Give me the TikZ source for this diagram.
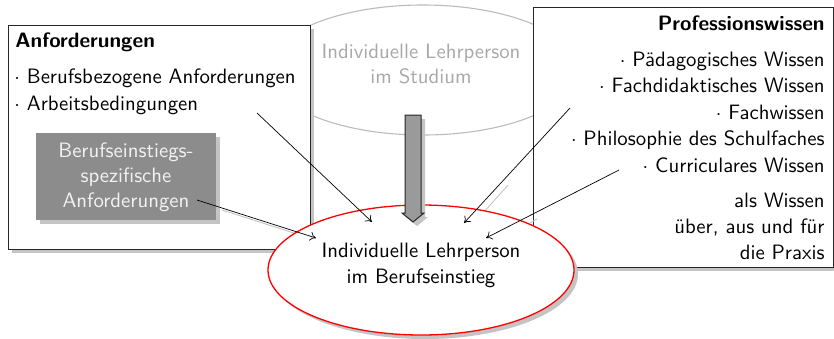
\documentclass[tikz,border=0pt]{standalone}
\usetikzlibrary{shapes.geometric,shadows,arrows.meta}
\definecolor{lightline}{HTML}{BBBBBB}
\definecolor{lighttext}{HTML}{A8A8A8}
\definecolor{boxgray}{HTML}{8C8C8C}
\definecolor{boxtext}{HTML}{F2F2F2}
\definecolor{arrowgray}{HTML}{9A9A9A}
\definecolor{shadowgray}{HTML}{C4C4C4}
\newcommand\listdot{$\cdot$ }
\begin{document}
\begin{tikzpicture}[x=0.5pt,y=-0.5pt,
  txt/.style={font=\fontsize{10.4}{13.3}\selectfont\sffamily, inner sep=0pt},
  frame/.style={draw=black!85, line width=0.5pt, fill=white, inner sep=0pt,
    drop shadow={shadow xshift=2pt,shadow yshift=-2pt,fill=shadowgray,opacity=1}},
  conn/.style={draw=black, line width=0.35pt, -{To[length=3pt,width=4.5pt]}},
  ghost/.style={draw=shadowgray, line width=0.45pt}]
\useasboundingbox (0,0) rectangle (834,338);

% background ellipse (study)
\node[ellipse, draw=lightline, line width=0.55pt, minimum width=155pt, minimum height=65pt, inner sep=0pt] (stud) at (423,70) {};
\node[txt, text=lighttext, anchor=base] (stud1) at (421,58) {Individuelle Lehrperson};
\node[txt, text=lighttext, anchor=base] (stud2) at (421,83) {im Studium};

% left box
\node[frame, minimum width=151pt, minimum height=112pt] (anf) at (159,137) {};
\node[txt, anchor=base west] (l0) at (15,47) {\bfseries Anforderungen};
\node[txt, anchor=base west] (l1) at (14,83) {\listdot Berufsbezogene Anforderungen};
\node[txt, anchor=base west] (l2) at (14,110) {\listdot Arbeitsbedingungen};

\node[fill=boxgray, inner sep=0pt, minimum width=90pt, minimum height=43.5pt,
  drop shadow={shadow xshift=2pt,shadow yshift=-2pt,fill=shadowgray,opacity=1}] (gbox) at (126,176.5) {};
\node[txt, text=boxtext, anchor=base] (g1) at (126,157) {Berufseinstiegs-};
\node[txt, text=boxtext, anchor=base] (g2) at (126,182) {spezifische};
\node[txt, text=boxtext, anchor=base] (g3) at (126,207) {Anforderungen};

% right box
\node[frame, minimum width=150pt, minimum height=130pt] (prof) at (683,137) {};
\node[txt, anchor=base east] (r0) at (825,30) {\bfseries Professionswissen};
\node[txt, anchor=base east] (r1) at (825,66) {\listdot Pädagogisches Wissen};
\node[txt, anchor=base east] (r2) at (825,92) {\listdot Fachdidaktisches Wissen};
\node[txt, anchor=base east] (r3) at (825,119) {\listdot Fachwissen};
\node[txt, anchor=base east] (r4) at (825,145) {\listdot Philosophie des Schulfaches};
\node[txt, anchor=base east] (r5) at (825,172) {\listdot Curriculares Wissen};
\node[txt, anchor=base east] (r6) at (825,207) {als Wissen};
\node[txt, anchor=base east] (r7) at (825,233) {über, aus und für};
\node[txt, anchor=base east] (r8) at (825,259) {die Praxis};

% arrow end points
\coordinate (a1s) at (257,113); \coordinate (a1e) at (372,222);
\coordinate (a2s) at (197,200); \coordinate (a2e) at (316,238);
\coordinate (a3s) at (570,108); \coordinate (a3e) at (464,223);
\coordinate (a4s) at (619,170); \coordinate (a4e) at (486,238);

% faint shadows of connectors
\coordinate (s2a) at (222,210); \coordinate (s2b) at (300,235);
\coordinate (s3a) at (508,185); \coordinate (s3b) at (483,213);
\coordinate (s4a) at (537,219); \coordinate (s4b) at (530,223);
\draw[ghost] (s2a) -- (s2b);
\draw[ghost] (s3a) -- (s3b);
\draw[ghost] (s4a) -- (s4b);

% main ellipse
\node[ellipse, draw=red, line width=0.65pt, fill=white, inner sep=0pt, minimum width=153pt, minimum height=65pt,
  drop shadow={shadow xshift=2pt,shadow yshift=-2pt,fill=shadowgray,opacity=1}] (beruf) at (421,270) {};
\node[txt, anchor=base] (b1) at (421,257) {Individuelle Lehrperson};
\node[txt, anchor=base] (b2) at (421,283) {im Berufseinstieg};

% block arrow
\fill[shadowgray] (409,119) -- (425,119) -- (425,217) -- (428,217) -- (417,226) -- (406,217) -- (409,217) -- cycle;
\draw[fill=arrowgray, draw=black!85, line width=0.5pt] (405,115) -- (421,115) -- (421,213) -- (424,213) -- (413,222) -- (402,213) -- (405,213) -- cycle;

% connectors
\draw[conn] (a1s) -- (a1e);
\draw[conn] (a2s) -- (a2e);
\draw[conn] (a3s) -- (a3e);
\draw[conn] (a4s) -- (a4e);
\end{tikzpicture}
\end{document}
